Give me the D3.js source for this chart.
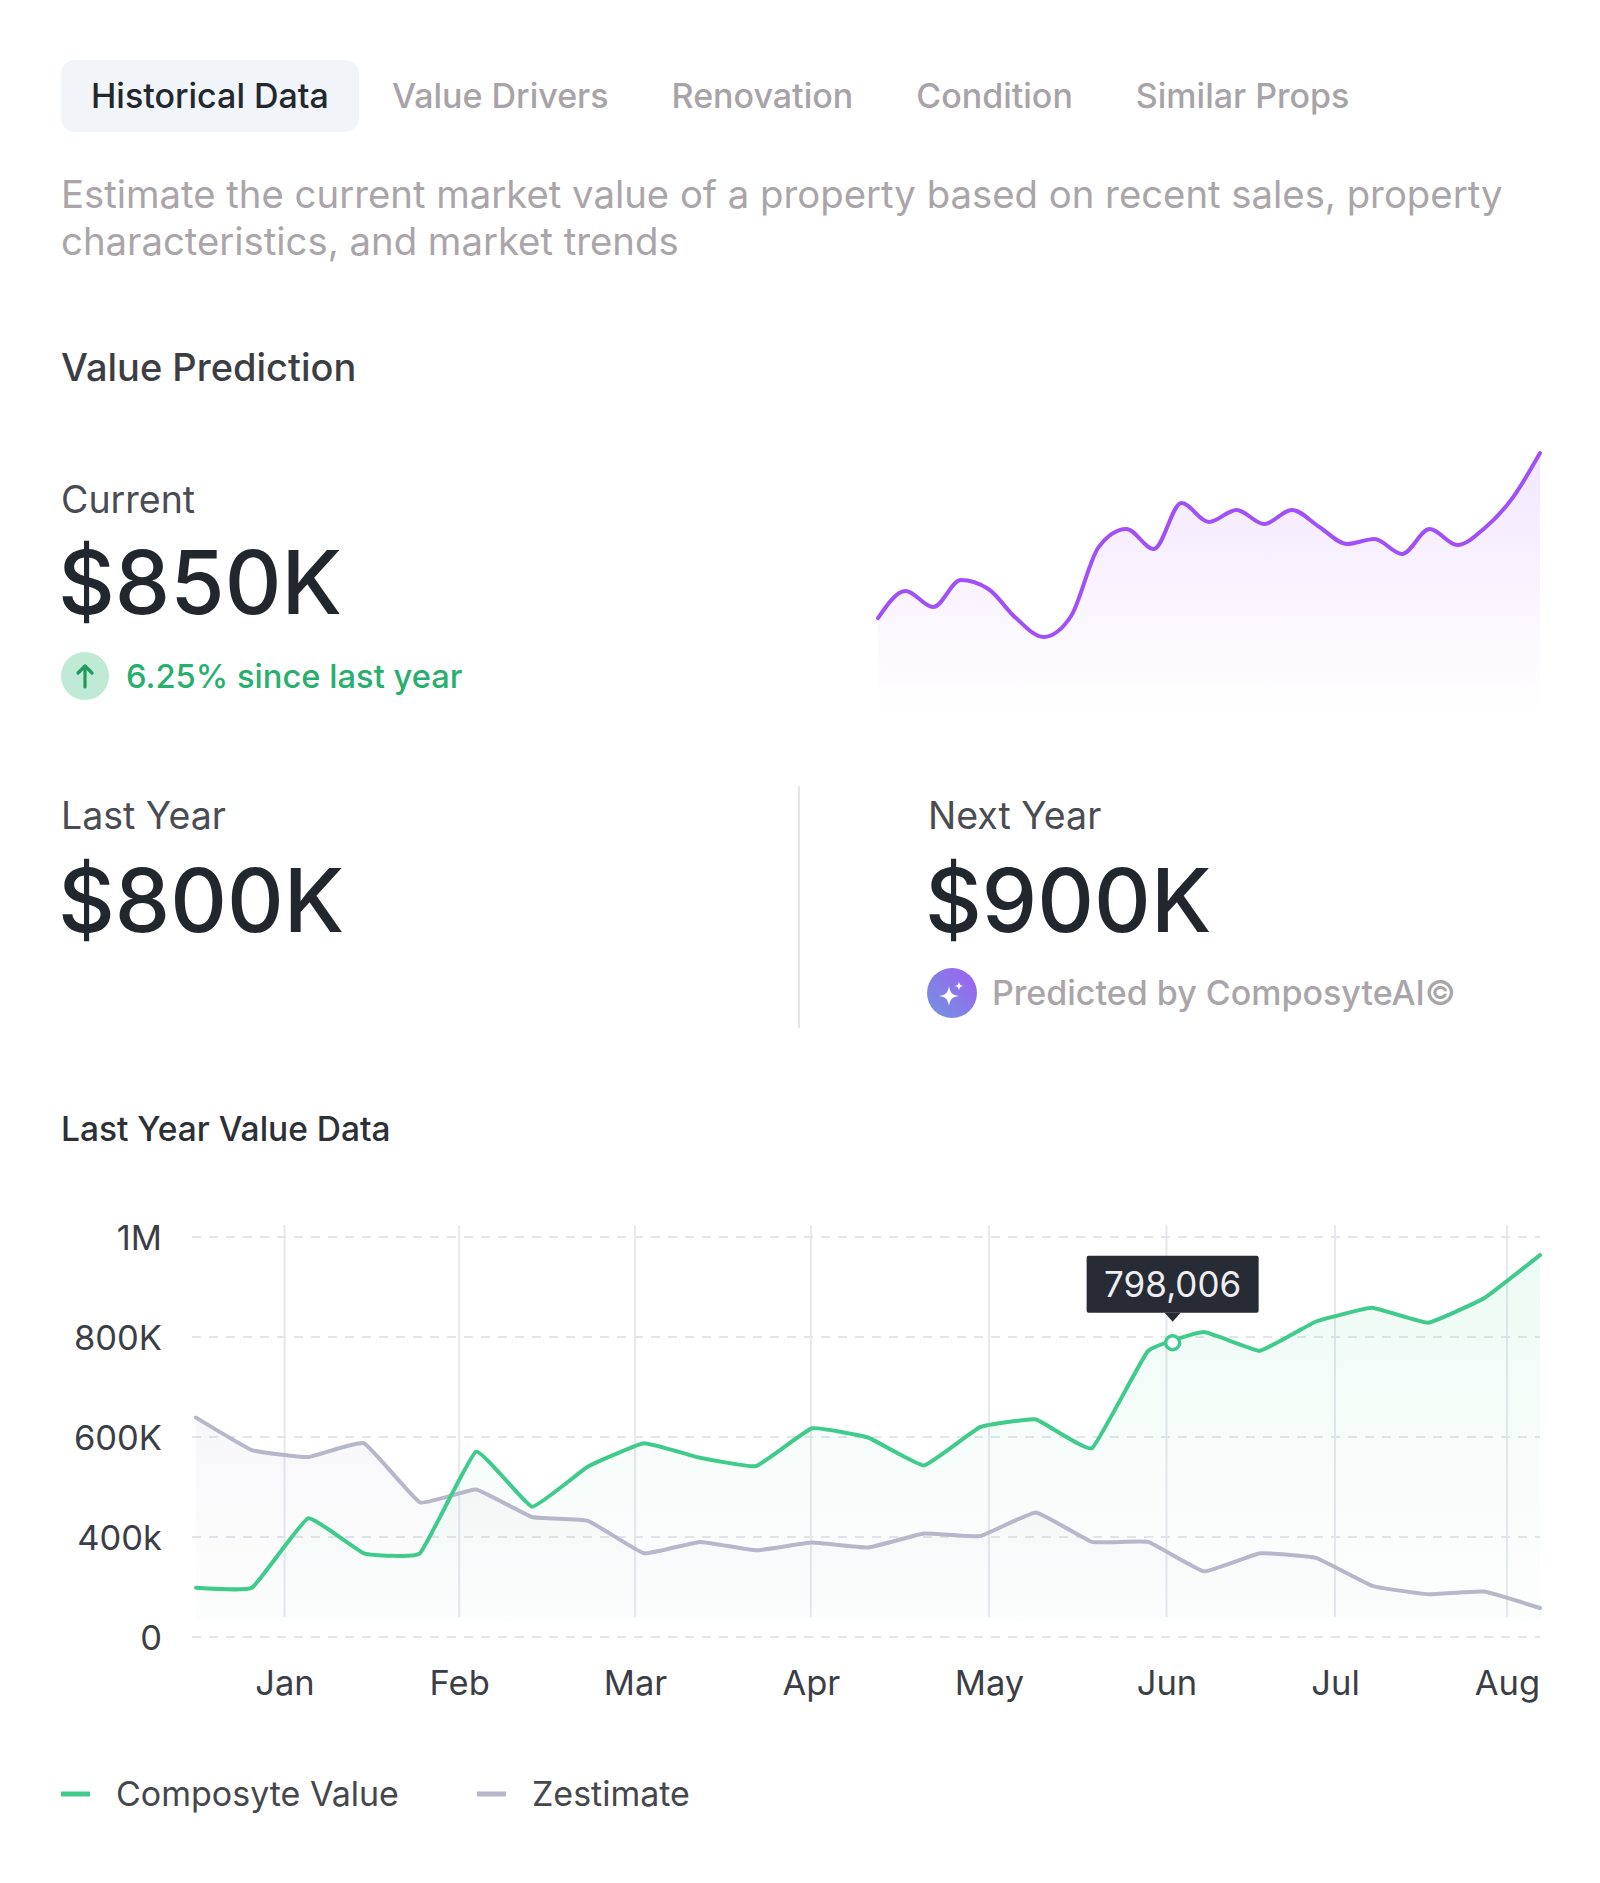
<!DOCTYPE html>
<html>
<head>
<meta charset="utf-8">
<script src="https://cdn.jsdelivr.net/npm/d3@7"></script>
<style>
  html, body { margin: 0; padding: 0; background: #fff; }
  svg { display: block; font-family: Inter, "Noto Sans", sans-serif; }
</style>
</head>
<body>
<div id="card"></div>
<script>
// ---- data ----
const tabs = ['Historical Data', 'Value Drivers', 'Renovation', 'Condition', 'Similar Props'];

const summary = {
  current: '$850K', change: '6.25% since last year',
  lastYear: '$800K', nextYear: '$900K'
};

// small trend line at top right (index values, 0..100)
const sparkValues = [36.6, 46.9, 40.8, 51.1, 47.7, 36.6, 29.4, 37.4, 63.7, 70.6, 63.0, 80.5,
  73.3, 77.9, 72.5, 77.9, 71.4, 64.9, 66.8, 61.1, 70.6, 64.5, 71.0, 82.4, 99.6];

// last year value data, 25 samples
const composyte = [197000, 197000, 437400, 334800, 334800, 570600, 460600, 541000, 587600,
  558600, 541800, 617400, 599000, 543200, 619800, 635000, 577600, 772000, 810000, 772600,
  831000, 858400, 828600, 877400, 963800];
const zestimate = [638800, 573800, 560000, 587600, 469000, 495000, 440000, 432400, 334800,
  380400, 346800, 377600, 357600, 407000, 401800, 449200, 380400, 380400, 262800, 334800,
  316400, 204800, 170800, 181600, 116000];

const months = ['Jan', 'Feb', 'Mar', 'Apr', 'May', 'Jun', 'Jul', 'Aug'];
const monthAt = [1.58, 4.70, 7.84, 10.98, 14.16, 17.33, 20.34, 23.41]; // sample index of each month line

const yTicks = [0, 400000, 600000, 800000, 1000000];
const yTickLabels = ['0', '400k', '600K', '800K', '1M'];

const tooltipAt = 17.44;
const tooltipText = '798,006';

const series = [
  { name: 'Composyte Value', values: composyte, color: '#3fcb8c', fill: '#3fcb8c' },
  { name: 'Zestimate', values: zestimate, color: '#b6b7ca', fill: '#9ea2b8' }
];

// ---- drawing ----
const W = 1600, H = 1883;
const svg = d3.select('#card').append('svg').attr('width', W).attr('height', H);
const defs = svg.append('defs');

// tabs
const pill = svg.append('rect')
  .attr('x', 61).attr('y', 60).attr('height', 72).attr('rx', 14)
  .attr('fill', '#f1f4f8');
let tx = 91;
tabs.forEach((t, i) => {
  const el = svg.append('text')
    .attr('x', tx).attr('y', 108)
    .attr('font-size', 34).attr('font-weight', 500)
    .attr('fill', i === 0 ? '#23272e' : '#a8a3a7')
    .text(t);
  const w = el.node().getComputedTextLength();
  if (i === 0) pill.attr('width', w + 60);
  tx += w + 63;
});

// description
const desc = svg.append('text').attr('font-size', 38.3).attr('fill', '#aaa5a9');
desc.append('tspan').attr('x', 61).attr('y', 208)
  .text('Estimate the current market value of a property based on recent sales, property');
desc.append('tspan').attr('x', 61).attr('y', 255)
  .text('characteristics, and market trends');

svg.append('text').attr('x', 61).attr('y', 381)
  .attr('font-size', 38).attr('font-weight', 500).attr('fill', '#3c3e43')
  .text('Value Prediction');

// current
svg.append('text').attr('x', 61).attr('y', 513)
  .attr('font-size', 37.5).attr('fill', '#4a4c51').text('Current');
svg.append('text').attr('x', 58).attr('y', 614)
  .attr('font-size', 88).attr('font-weight', 500).attr('fill', '#22262d')
  .text(summary.current);

// change badge
const badge = svg.append('g').attr('transform', 'translate(85,676)');
badge.append('circle').attr('r', 24).attr('fill', '#bfead5');
badge.append('path').attr('d', 'M0,11 V-10 M-7,-3 L0,-10 L7,-3')
  .attr('fill', 'none').attr('stroke', '#1f9a5c').attr('stroke-width', 3.2)
  .attr('stroke-linecap', 'round').attr('stroke-linejoin', 'round');
svg.append('text').attr('x', 126).attr('y', 688)
  .attr('font-size', 32.7).attr('font-weight', 500).attr('fill', '#27b06d')
  .text(summary.change);

// sparkline
const sx = d3.scaleLinear([0, sparkValues.length - 1], [878, 1540]);
const sy = d3.scaleLinear([0, 100], [714, 452]);
const sparkGrad = defs.append('linearGradient').attr('id', 'sparkFill')
  .attr('x1', 0).attr('y1', 0).attr('x2', 0).attr('y2', 1);
sparkGrad.append('stop').attr('offset', 0).attr('stop-color', '#a855f7').attr('stop-opacity', 0.14);
sparkGrad.append('stop').attr('offset', 1).attr('stop-color', '#a855f7').attr('stop-opacity', 0);

svg.append('path').datum(sparkValues)
  .attr('fill', 'url(#sparkFill)')
  .attr('d', d3.area().x((d, i) => sx(i)).y0(sy(0)).y1(d => sy(d)).curve(d3.curveMonotoneX));
svg.append('path').datum(sparkValues)
  .attr('fill', 'none').attr('stroke', '#a150f7').attr('stroke-width', 4)
  .attr('stroke-linecap', 'round').attr('stroke-linejoin', 'round')
  .attr('d', d3.line().x((d, i) => sx(i)).y(d => sy(d)).curve(d3.curveMonotoneX));

// divider
svg.append('line').attr('x1', 799).attr('x2', 799).attr('y1', 786).attr('y2', 1028)
  .attr('stroke', '#e4e6ea').attr('stroke-width', 2);

// last year / next year
svg.append('text').attr('x', 61).attr('y', 829)
  .attr('font-size', 37.5).attr('fill', '#4a4c51').text('Last Year');
svg.append('text').attr('x', 58).attr('y', 932)
  .attr('font-size', 88).attr('font-weight', 500).attr('fill', '#22262d')
  .text(summary.lastYear);
svg.append('text').attr('x', 928).attr('y', 829)
  .attr('font-size', 37.5).attr('fill', '#4a4c51').text('Next Year');
svg.append('text').attr('x', 925).attr('y', 932)
  .attr('font-size', 88).attr('font-weight', 500).attr('fill', '#22262d')
  .text(summary.nextYear);

const aiGrad = defs.append('linearGradient').attr('id', 'aiFill')
  .attr('x1', 1).attr('y1', 0).attr('x2', 0).attr('y2', 1);
aiGrad.append('stop').attr('offset', 0).attr('stop-color', '#a15ff3');
aiGrad.append('stop').attr('offset', 1).attr('stop-color', '#6f95de');
const ai = svg.append('g').attr('transform', 'translate(952,993)');
ai.append('circle').attr('r', 25).attr('fill', 'url(#aiFill)');
const star = s => `M0,${-s} C${s * 0.12},${-s * 0.3} ${s * 0.3},${-s * 0.12} ${s},0 ` +
  `C${s * 0.3},${s * 0.12} ${s * 0.12},${s * 0.3} 0,${s} ` +
  `C${-s * 0.12},${s * 0.3} ${-s * 0.3},${s * 0.12} ${-s},0 ` +
  `C${-s * 0.3},${-s * 0.12} ${-s * 0.12},${-s * 0.3} 0,${-s}Z`;
ai.append('path').attr('transform', 'translate(-3,3)').attr('d', star(10)).attr('fill', '#fff');
ai.append('path').attr('transform', 'translate(7,-7)').attr('d', star(4.5)).attr('fill', '#fff');
svg.append('text').attr('x', 992).attr('y', 1005)
  .attr('font-size', 34).attr('font-weight', 500).attr('fill', '#aaa5a9')
  .text('Predicted by ComposyteAI\u00A9');

// main chart
svg.append('text').attr('x', 61).attr('y', 1141)
  .attr('font-size', 33.5).attr('font-weight', 500).attr('fill', '#2d3036')
  .text('Last Year Value Data');

const plotTop = 1237, plotBottom = 1637;
const x = d3.scaleLinear([0, composyte.length - 1], [196, 1540]);
// gridlines are evenly spaced, so the value scale is piecewise
const y = d3.scaleLinear(yTicks, yTicks.map((d, i) => plotBottom - i * (plotBottom - plotTop) / (yTicks.length - 1)));

// horizontal dashed grid
svg.append('g').selectAll('line').data(yTicks).join('line')
  .attr('x1', 192).attr('x2', 1540)
  .attr('y1', d => y(d)).attr('y2', d => y(d))
  .attr('stroke', '#e3e5eb').attr('stroke-width', 2).attr('stroke-dasharray', '9 8');

// vertical month lines
svg.append('g').selectAll('line').data(monthAt).join('line')
  .attr('x1', d => x(d)).attr('x2', d => x(d))
  .attr('y1', 1225).attr('y2', 1617)
  .attr('stroke', '#e6e8ed').attr('stroke-width', 2);

// axes
const axisY = svg.append('g').attr('transform', 'translate(162,0)')
  .call(d3.axisLeft(y).tickValues(yTicks).tickFormat((d, i) => yTickLabels[i]).tickSize(0).tickPadding(0));
const axisX = svg.append('g').attr('transform', `translate(0,${plotBottom + 32})`)
  .call(d3.axisBottom(x).tickValues(monthAt).tickFormat((d, i) => months[i]).tickSize(0).tickPadding(0));
[axisY, axisX].forEach(a => {
  a.select('.domain').remove();
  a.selectAll('text').attr('font-size', 34.5).attr('fill', '#3b3e45')
    .attr('font-family', 'Inter, "Noto Sans", sans-serif');
});
axisY.selectAll('text').attr('dy', '0.36em');
axisX.selectAll('text').attr('dy', '0.75em');

// areas + lines
const curve = d3.curveCardinal.tension(0.7);
series.forEach((s, k) => {
  const g = defs.append('linearGradient').attr('id', 'fill' + k)
    .attr('x1', 0).attr('y1', 0).attr('x2', 0).attr('y2', 1);
  g.append('stop').attr('offset', 0).attr('stop-color', s.fill).attr('stop-opacity', 0.09);
  g.append('stop').attr('offset', 1).attr('stop-color', s.fill).attr('stop-opacity', 0.01);
});
series.slice().reverse().forEach(s => {
  const k = series.indexOf(s);
  svg.append('path').datum(s.values)
    .attr('fill', `url(#fill${k})`)
    .attr('d', d3.area().x((d, i) => x(i)).y0(y(0) - 15).y1(d => y(d)).curve(curve));
});
series.slice().reverse().forEach(s => {
  svg.append('path').datum(s.values)
    .attr('fill', 'none').attr('stroke', s.color).attr('stroke-width', 4)
    .attr('stroke-linejoin', 'round').attr('stroke-linecap', 'round')
    .attr('d', d3.line().x((d, i) => x(i)).y(d => y(d)).curve(curve));
});

// tooltip
const i0 = Math.floor(tooltipAt);
const tipV = d3.interpolateNumber(composyte[i0], composyte[i0 + 1])(tooltipAt - i0);
const tipX = x(tooltipAt), tipY = y(tipV);
svg.append('circle').attr('cx', tipX).attr('cy', tipY).attr('r', 7)
  .attr('fill', '#fff').attr('stroke', '#3fcb8c').attr('stroke-width', 3.5);
const tip = svg.append('g').attr('transform', `translate(${tipX},${tipY - 30})`);
tip.append('rect').attr('x', -86).attr('y', -57).attr('width', 172).attr('height', 57)
  .attr('rx', 2).attr('fill', '#272b33');
tip.append('path').attr('d', 'M-8,0 L0,9 L8,0Z').attr('fill', '#272b33');
tip.append('text').attr('x', 0).attr('y', -16).attr('text-anchor', 'middle')
  .attr('font-size', 35).attr('fill', '#eceef2').text(tooltipText);

// legend
const legend = svg.append('g').attr('transform', 'translate(61,1794)');
let lx = 0;
series.forEach(s => {
  const item = legend.append('g').attr('transform', `translate(${lx},0)`);
  item.append('line').attr('x1', 0).attr('x2', 29).attr('stroke', s.color)
    .attr('stroke-width', 5);
  const t = item.append('text').attr('x', 55).attr('y', 12)
    .attr('font-size', 34).attr('fill', '#45474c').text(s.name);
  lx += 55 + t.node().getComputedTextLength() + 78;
});
</script>
</body>
</html>
